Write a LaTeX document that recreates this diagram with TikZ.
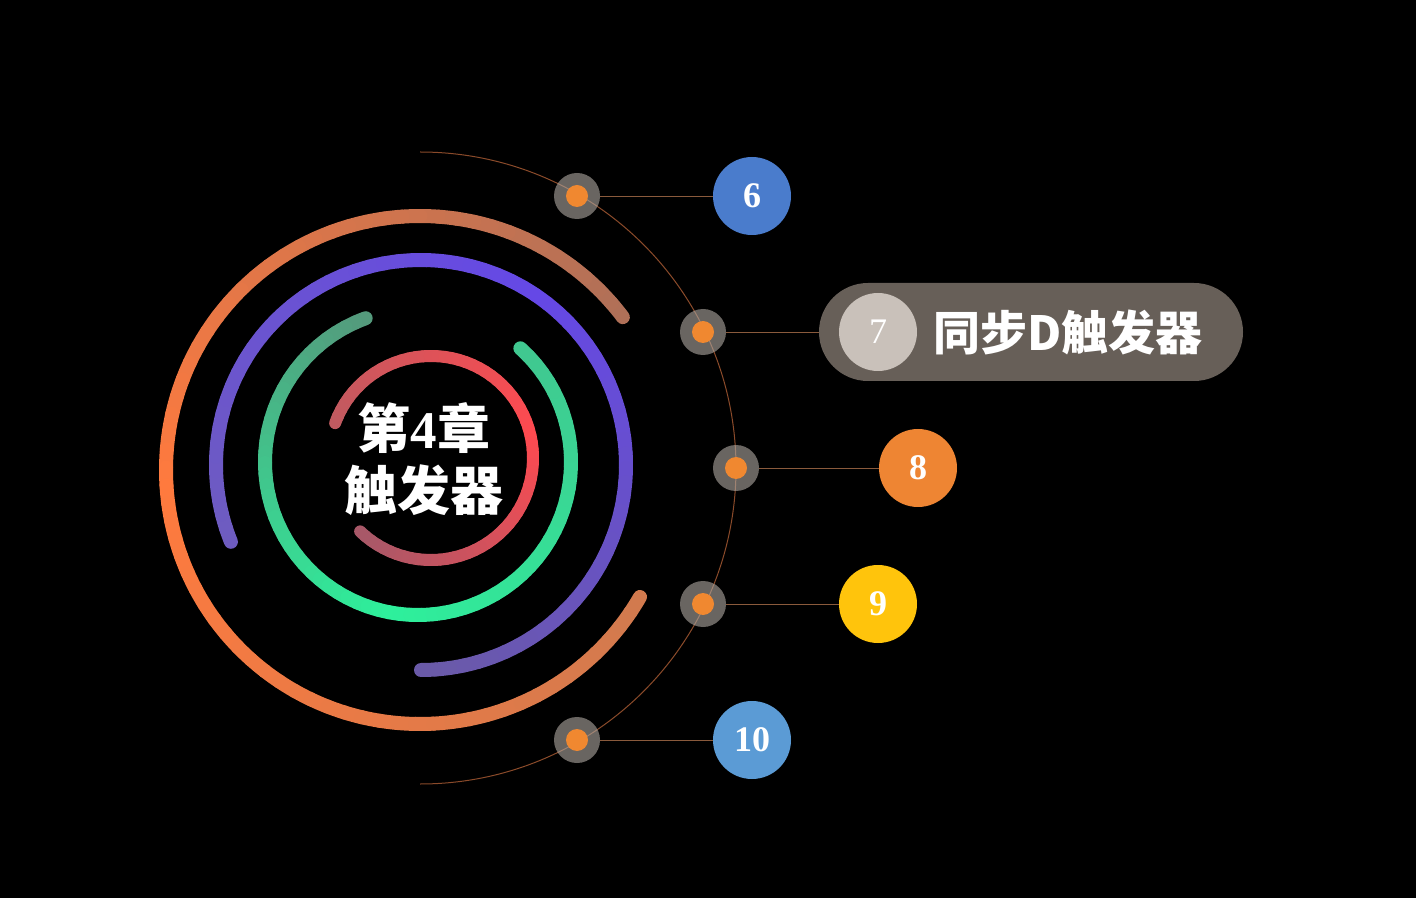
\documentclass[tikz,border=0pt]{standalone}
\usepackage{fontspec}
\setmainfont{Liberation Serif}
\newfontfamily\cjk{Noto Sans CJK SC}
\usetikzlibrary{positioning}

\definecolor{dotorange}{HTML}{F08830}
\definecolor{markgray}{HTML}{B0A9A2}
\definecolor{linkbrown}{HTML}{8A5A3C}
\definecolor{arcbrown}{HTML}{8A4A2A}
\definecolor{pillgray}{HTML}{675F58}
\definecolor{sevengray}{HTML}{C9C1BA}
\definecolor{blueA}{HTML}{4A7CCC}
\definecolor{orangeB}{HTML}{EE8533}
\definecolor{yellowC}{HTML}{FFC40C}
\definecolor{blueD}{HTML}{5B9BD5}
% ring colours: start, middle, end
\definecolor{orgA}{HTML}{B07058}\definecolor{orgB}{HTML}{FF7A3E}\definecolor{orgC}{HTML}{D27A4E}
\definecolor{purA}{HTML}{6E5CC0}\definecolor{purB}{HTML}{6548E6}\definecolor{purC}{HTML}{6A5AA8}
\definecolor{grnA}{HTML}{549A7C}\definecolor{grnB}{HTML}{2EF09C}\definecolor{grnC}{HTML}{40C890}
\definecolor{redA}{HTML}{C05A60}\definecolor{redB}{HTML}{FF4A50}\definecolor{redC}{HTML}{A85868}

% #1 centre, #2 radius, #3 start angle, #4 end angle, #5-#7 colours, #8 width
\newcommand{\gradring}[8]{%
  \foreach \k in {1,...,72}{%
    \pgfmathsetmacro{\aa}{#3+(#4-#3)/72*(\k-1)}
    \pgfmathsetmacro{\bb}{#3+(#4-#3)/72*\k}
    \ifnum\k<37
      \pgfmathsetmacro{\pp}{100-100/36*(\k-1)}
      \colorlet{segcol}{#5!\pp!#6}
    \else
      \pgfmathsetmacro{\pp}{100-100/35*(\k-37)}
      \colorlet{segcol}{#6!\pp!#7}
    \fi
    \draw[line width=#8, line cap=round, segcol] (#1) ++(\aa:#2) arc[start angle=\aa, end angle=\bb, radius=#2];
  }}

\tikzset{
  marker/.style={circle, minimum size=46pt, inner sep=0pt, fill=markgray, fill opacity=.6,
    path picture={\fill[dotorange, fill opacity=1] (path picture bounding box.center) circle (11pt);}},
  num/.style={circle, minimum size=78pt, inner sep=0pt, text=white, font=\fontsize{36}{36}\selectfont\bfseries},
  link/.style={draw=linkbrown, line width=.8pt},
  pill/.style={rounded corners=49pt, minimum width=424pt, minimum height=98pt, fill=pillgray, inner sep=0pt},
}

\begin{document}
\begin{tikzpicture}[x=1pt,y=1pt]
\fill[black] (0,0) rectangle (1416,898);
\useasboundingbox (0,0) rectangle (1416,898);

% rings, outside in
\gradring{420,428}{254}{37}{330}{orgA}{orgB}{orgC}{14pt}
\gradring{421,433}{205}{202}{-90}{purA}{purB}{purC}{14pt}
\gradring{418,436}{153}{110}{408}{grnA}{grnB}{grnC}{14pt}
\gradring{431,440}{102}{160}{-134}{redA}{redB}{redC}{12pt}

\node[text=white, align=center, font=\fontsize{53}{62}\selectfont\bfseries] (chap) at (424,439)
  {{\cjk 第}4{\cjk 章}\\{\cjk 触发器}};

% thin arc and the markers on it
\draw[arcbrown, line width=1pt] (420,746) arc[start angle=90, end angle=-90, radius=316];
\node[marker] (m6) at (577,702) {};
\node[marker] (m7) at (703,566) {};
\node[marker] (m8) at (736,430) {};
\node[marker] (m9) at (703,294) {};
\node[marker] (m10) at (577,158) {};

% numbered discs
\node[num, fill=blueA] (n6) at (752,702) {6};
\node[pill] (pill) at (1031,566) {};
\node[num, fill=sevengray, font=\fontsize{36}{36}\selectfont] (n7) at (878,566) {7};
\node[right=16pt of n7, inner sep=0pt, text=white, font=\cjk\bfseries\fontsize{47}{47}\selectfont] (ttl) {同步D触发器};
\node[num, fill=orangeB] (n8) at (918,430) {8};
\node[num, fill=yellowC] (n9) at (878,294) {9};
\node[num, fill=blueD] (n10) at (752,158) {10};

\draw[link] (m6) -- (n6);
\draw[link] (m7) -- (pill);
\draw[link] (m8) -- (n8);
\draw[link] (m9) -- (n9);
\draw[link] (m10) -- (n10);
\end{tikzpicture}
\end{document}
